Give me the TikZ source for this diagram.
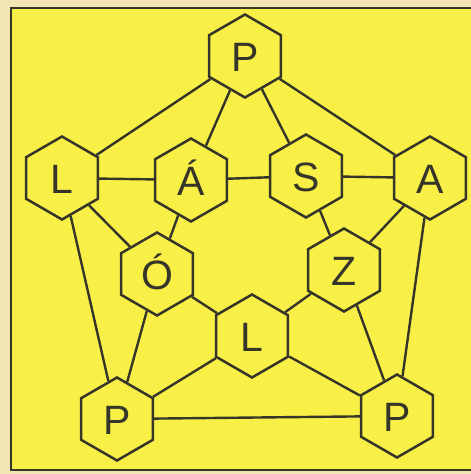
\documentclass[tikz,border=0pt]{standalone}
\usepackage{fontspec}
\setmainfont{Liberation Sans}
\usetikzlibrary{shapes.geometric}
\definecolor{bgbeige}{HTML}{F1E5B2}
\definecolor{paper}{HTML}{F8F046}
\definecolor{ink}{HTML}{35352A}
\begin{document}
\begin{tikzpicture}[x=1pt,y=-1pt,
  hexnode/.style={regular polygon, regular polygon sides=6, shape border rotate=30,
    minimum size=83pt, inner sep=0pt, draw=ink, line width=2.5pt, fill=paper,
    text=ink, font=\fontsize{41}{41}\selectfont, text height=30pt, text depth=0pt},
  link/.style={draw=ink, line width=2.4pt}]
\useasboundingbox (0,0) rectangle (471,474);
\fill[bgbeige] (0,0) rectangle (471,474);
\fill[paper] (11,8) rectangle (480,470);
\draw[ink, line width=2.4pt] (480,8) -- (11,8) -- (11,470) -- (480,470);
\node[hexnode] (pt) at (245,56) {P};
\node[hexnode] (l1) at (62,178) {L};
\node[hexnode] (aa) at (191,180) {Á};
\node[hexnode] (s) at (306,176) {S};
\node[hexnode] (a) at (430,178) {A};
\node[hexnode] (o) at (157,274) {Ó};
\node[hexnode] (z) at (344,270) {Z};
\node[hexnode] (l2) at (252,336) {L};
\node[hexnode] (p1) at (117,419) {P};
\node[hexnode] (p2) at (397,416) {P};
\path[link] (pt) -- (l1) (pt) -- (a) (pt) -- (aa) (pt) -- (s)
  (l1) -- (aa) (aa) -- (s) (s) -- (a)
  (l1) -- (o) (l1) -- (p1) (aa) -- (o) (s) -- (z)
  (a) -- (z) (a) -- (p2)
  (o) -- (l2) (o) -- (p1) (z) -- (l2) (z) -- (p2)
  (l2) -- (p1) (l2) -- (p2) (p1) -- (p2);
\end{tikzpicture}
\end{document}
